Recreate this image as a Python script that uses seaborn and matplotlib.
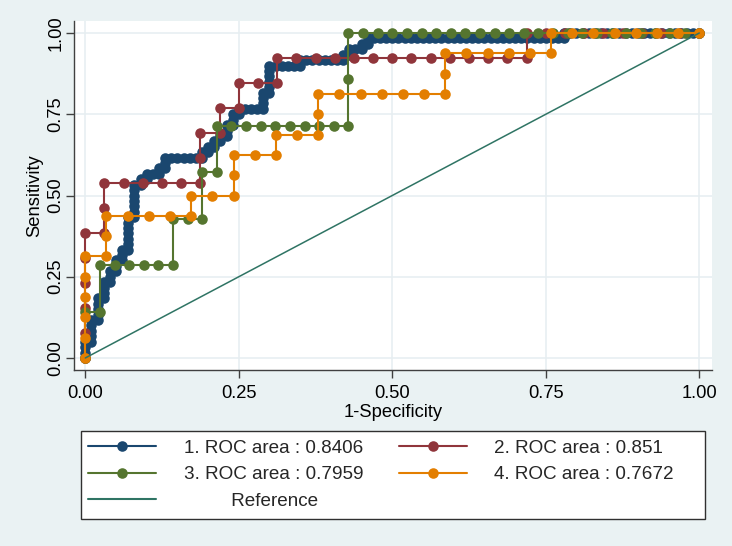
import numpy as np
import pandas as pd
import seaborn as sns
import matplotlib.pyplot as plt
from matplotlib.lines import Line2D
from matplotlib.patches import Rectangle

# ROC curves, written as runs of (false positives, true positives)
# added; every unit step is one plotted point
roc1_runs = [(0, 3), (1, 0), (0, 4), (1, 0), (0, 4), (1, 0), (0, 3), (1, 0), (0, 2), (1, 0),
             (0, 2), (1, 0), (0, 2), (1, 0), (0, 6), (1, 0), (0, 6), (1, 0), (0, 1), (1, 0),
             (0, 1), (2, 0), (0, 1), (1, 0), (0, 2), (6, 0), (0, 1), (1, 0), (0, 1), (1, 0),
             (0, 1), (1, 0), (0, 1), (1, 0), (0, 2), (1, 0), (0, 2), (1, 0), (0, 1), (4, 0),
             (0, 3), (1, 0), (0, 5), (5, 0), (0, 1), (7, 0), (0, 1), (1, 0), (0, 1), (2, 0),
             (0, 1), (1, 0), (0, 1), (32, 0), (0, 1), (22, 0)]
roc1_n = (100, 60)

roc2_runs = [(0, 5), (1, 0), (0, 2), (5, 0), (0, 2), (1, 0), (0, 1), (1, 0), (0, 1), (2, 0),
             (0, 1), (13, 0), (0, 1), (9, 0)]
roc2_n = (32, 13)

roc3_runs = [(0, 1), (1, 0), (0, 1), (5, 0), (0, 1), (2, 0), (0, 1), (1, 0), (0, 1), (9, 0),
             (0, 2), (24, 0)]
roc3_n = (42, 7)

roc4_runs = [(0, 5), (1, 0), (0, 2), (4, 0), (0, 1), (2, 0), (0, 2), (2, 0), (0, 1), (2, 0),
             (0, 2), (6, 0), (0, 2), (5, 0), (0, 1), (7, 0)]
roc4_n = (29, 16)

labels = ["1. ROC area : 0.8406", "2. ROC area : 0.851",
          "3. ROC area : 0.7959", "4. ROC area : 0.7672"]
colors = ["#1a476f", "#90353b", "#55752f", "#e37e00"]
ref_color = "#2f7464"
ticks = [0, 0.25, 0.5, 0.75, 1.0]


def roc_points(runs, n):
    fp, tp = [0], [0]
    for dx, dy in runs:
        for _ in range(dx):
            fp.append(fp[-1] + 1)
            tp.append(tp[-1])
        for _ in range(dy):
            fp.append(fp[-1])
            tp.append(tp[-1] + 1)
    return pd.DataFrame({"fpr": np.array(fp) / n[0], "tpr": np.array(tp) / n[1]})


sns.set_theme(style="white")
plt.rcParams["font.family"] = ["Liberation Sans", "DejaVu Sans"]

bg = "#eaf2f3"
fig = plt.figure(figsize=(7.32, 5.46), dpi=100, facecolor=bg)
ax = fig.add_axes([74 / 732, 1 - 370 / 546, 638 / 732, 349 / 546])
ax.set_facecolor("white")

curves = [(roc1_runs, roc1_n), (roc2_runs, roc2_n), (roc3_runs, roc3_n), (roc4_runs, roc4_n)]
for (runs, n), col in zip(curves, colors):
    df = roc_points(runs, n)
    sns.lineplot(data=df, x="fpr", y="tpr", sort=False, estimator=None, color=col,
                 linewidth=1.5, marker="o", markersize=7.6, markeredgewidth=0,
                 legend=False, ax=ax)

ref = pd.DataFrame({"fpr": [0, 1], "tpr": [0, 1]})
sns.lineplot(data=ref, x="fpr", y="tpr", color=ref_color, linewidth=1.1, legend=False, ax=ax)

ax.set_xlim(-0.0184, 1.0207)
ax.set_ylim(-0.037, 1.037)
ax.set_xticks(ticks)
ax.set_yticks(ticks)
ax.set_xticklabels([f"{t:.2f}" for t in ticks])
ax.set_yticklabels([f"{t:.2f}" for t in ticks], rotation=90, va="center")
ax.grid(True, color="#e6eef1", linewidth=1.1)
ax.set_axisbelow(True)
for side in ["top", "right"]:
    ax.spines[side].set_visible(False)
for side in ["left", "bottom"]:
    ax.spines[side].set_color("#404040")
    ax.spines[side].set_linewidth(1.0)
ax.tick_params(axis="both", direction="out", length=6, width=1.0, color="#404040",
               labelsize=13.2, labelcolor="black", bottom=True, left=True)
ax.tick_params(axis="x", pad=5)
ax.tick_params(axis="y", pad=1)
ax.set_xlabel("1-Specificity", fontsize=13.2, color="black", labelpad=1)
ax.set_ylabel("Sensitivity", fontsize=13.2, color="black", labelpad=3)

# legend box below the plot
fig.patches.append(Rectangle((80.7 / 732, 1 - 518.7 / 546), 624 / 732, 87.7 / 546,
                             transform=fig.transFigure, facecolor="white",
                             edgecolor="#303030", linewidth=1.0, zorder=0))
handles = [Line2D([], [], color=c, lw=1.5, marker="o", ms=7.6, mew=0) for c in colors]
ref_handle = Line2D([], [], color=ref_color, lw=1.5)
leg = fig.legend([handles[0], handles[2], ref_handle, handles[1], handles[3]],
                 [labels[0], labels[2], "         Reference", labels[1], labels[3]],
                 ncol=2, loc="center left", bbox_to_anchor=(88.3 / 732, 1 - 474.7 / 546),
                 frameon=False, fontsize=13.6, handlelength=3.6, handletextpad=1.45,
                 columnspacing=1.9, labelspacing=0.5, borderpad=0, borderaxespad=0)

fig.savefig("out.png", dpi=100, facecolor=bg)
